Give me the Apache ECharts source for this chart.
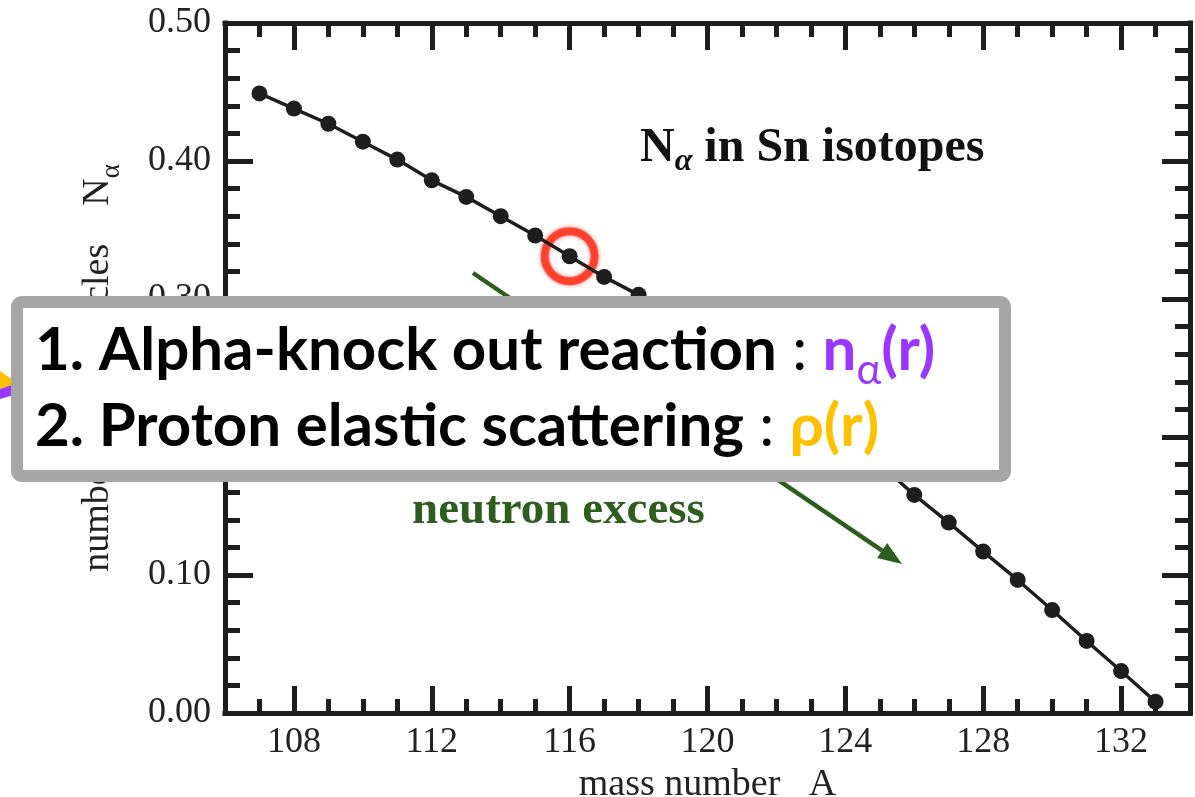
<!DOCTYPE html>
<html>
<head>
<meta charset="utf-8">
<script src="https://cdn.jsdelivr.net/npm/echarts@6/dist/echarts.min.js"></script>
<style>
html,body{margin:0;padding:0;background:#ffffff;}
#chart{width:1195px;height:797px;}
</style>
</head>
<body>
<div id="chart"></div>
<script>
// ---- data ----
const massNumbers = [107,108,109,110,111,112,113,114,115,116,117,118,119,120,121,122,123,124,125,126,127,128,129,130,131,132,133];
const nAlpha = [0.449,0.438,0.427,0.414,0.401,0.386,0.374,0.360,0.346,0.331,0.316,0.303,0.2885,0.273,0.2565,0.239,0.2205,0.201,0.1805,0.158,0.138,0.117,0.0964,0.0746,0.0522,0.0304,0.0082];
const xMajorTicks = [108,112,116,120,124,128,132];
const highlightedA = 116;
const xAxisTitle = 'mass number   A';
const yAxisTitleMain = 'number of α-particles    N';
const yAxisTitleSub = 'α';
const boxLine1 = '1. Alpha-knock out reaction';
const boxLine2 = '2. Proton elastic scattering';
const arrowText = 'neutron excess';

// ---- styles ----
const INK = '#1e1e1e';
const SERIF = '"Liberation Serif", "Times New Roman", serif';
const SANS = 'Lato, "Open Sans", sans-serif';
const GREEN = '#2d5e1e';

const seriesData = massNumbers.map((a, i) => [a, nAlpha[i]]);
const hiIdx = massNumbers.indexOf(highlightedA);

const frameLine = {show: true, onZero: false, lineStyle: {color: INK, width: 5, cap: 'square'}};
const majorTick = {show: true, inside: true, length: 27, customValues: xMajorTicks, lineStyle: {color: INK, width: 5}};
const minorTickAxis = (pos) => ({
  type: 'value', position: pos, min: 106, max: 134, interval: 1,
  axisLine: {show: false, onZero: false}, axisLabel: {show: false}, splitLine: {show: false},
  axisTick: {show: true, inside: true, length: 14, lineStyle: {color: INK, width: 5}}
});

const chart = echarts.init(document.getElementById('chart'), null, {renderer: 'canvas'});

// arrow geometry (annotation)
const aStart = [473, 273], aTip = [902, 564];
const dx = aTip[0] - aStart[0], dy = aTip[1] - aStart[1];
const L = Math.hypot(dx, dy), ux = dx / L, uy = dy / L;
const headLen = 24, headHalf = 9;
const base = [aTip[0] - ux * headLen, aTip[1] - uy * headLen];

const option = {
  animation: false,
  backgroundColor: '#ffffff',
  grid: {left: 225, right: 5, top: 23, bottom: 84, containLabel: false, outerBoundsMode: 'none'},
  xAxis: [
    {
      type: 'value', position: 'bottom', min: 106, max: 134,
      axisLine: frameLine, axisTick: majorTick, splitLine: {show: false},
      axisLabel: {customValues: xMajorTicks, margin: 12, fontSize: 36, fontFamily: SERIF, color: '#222'},
      name: xAxisTitle, nameLocation: 'middle', nameGap: 50,
      nameTextStyle: {fontSize: 38, fontFamily: SERIF, color: '#222'}
    },
    {
      type: 'value', position: 'top', min: 106, max: 134,
      axisLine: frameLine, axisTick: majorTick, splitLine: {show: false},
      axisLabel: {show: false}
    },
    minorTickAxis('bottom'),
    minorTickAxis('top')
  ],
  yAxis: [
    {
      type: 'value', position: 'left', min: 0, max: 0.5, interval: 0.1,
      axisLine: frameLine, splitLine: {show: false},
      axisTick: {show: true, inside: true, length: 28, lineStyle: {color: INK, width: 5}},
      minorTick: {show: true, splitNumber: 5, length: 15, lineStyle: {color: INK, width: 5}},
      axisLabel: {margin: 14, fontSize: 36, fontFamily: SERIF, color: '#222', formatter: v => v.toFixed(2)},
      name: '{t|' + yAxisTitleMain + '}{s|' + yAxisTitleSub + '}',
      nameLocation: 'middle', nameRotate: 90, nameGap: 100,
      nameTextStyle: {
        color: '#222',
        rich: {
          t: {fontSize: 38, fontFamily: SERIF, color: '#222', lineHeight: 53},
          s: {fontSize: 27, fontFamily: SERIF, color: '#222', verticalAlign: 'bottom', lineHeight: 26}
        }
      }
    },
    {
      type: 'value', position: 'right', min: 0, max: 0.5, interval: 0.1,
      axisLine: frameLine, splitLine: {show: false},
      axisTick: {show: true, inside: true, length: 28, lineStyle: {color: INK, width: 5}},
      minorTick: {show: true, splitNumber: 5, length: 15, lineStyle: {color: INK, width: 5}},
      axisLabel: {show: false}
    }
  ],
  series: [
    {
      type: 'scatter', name: 'highlight', xAxisIndex: 0, yAxisIndex: 0, z: 2,
      data: [seriesData[hiIdx]], symbol: 'circle', symbolSize: 50, silent: true,
      itemStyle: {color: 'rgba(0,0,0,0)', borderColor: '#ff2a16', borderWidth: 8, shadowBlur: 4, shadowColor: 'rgba(255,40,20,0.7)'}
    },
    {
      type: 'line', name: 'N_alpha', xAxisIndex: 0, yAxisIndex: 0, z: 3,
      data: seriesData, symbol: 'circle', symbolSize: 16, showSymbol: true,
      lineStyle: {color: INK, width: 3.5}, itemStyle: {color: INK}
    }
  ],
  graphic: [
    // title inside plot
    {
      type: 'text', z: 10, left: 640, top: 125,
      style: {
        text: '{n|N}{a|α}{t| in Sn isotopes}',
        rich: {
          n: {fontSize: 48, fontWeight: 'bold', fontFamily: SERIF, fill: '#111', lineHeight: 58},
          a: {fontSize: 32, fontWeight: 'bold', fontStyle: 'italic', fontFamily: SERIF, fill: '#111', verticalAlign: 'bottom', lineHeight: 42},
          t: {fontSize: 48, fontWeight: 'bold', fontFamily: SERIF, fill: '#111', lineHeight: 58}
        }
      }
    },
    // neutron excess arrow
    {
      type: 'line', z: 10,
      shape: {x1: aStart[0], y1: aStart[1], x2: base[0], y2: base[1]},
      style: {stroke: GREEN, lineWidth: 4.5}
    },
    {
      type: 'polygon', z: 10,
      shape: {points: [aTip, [base[0] - uy * headHalf, base[1] + ux * headHalf], [base[0] + uy * headHalf, base[1] - ux * headHalf]]},
      style: {fill: GREEN}
    },
    {
      type: 'text', z: 10, left: 412, top: 487,
      style: {text: arrowText, fontSize: 47, fontWeight: 'bold', fontFamily: SERIF, fill: GREEN}
    },
    // arrows coming from outside (left edge)
    {
      type: 'polygon', z: 30,
      shape: {points: [[0, 371], [19, 384], [0, 389]]},
      style: {fill: '#ffc000'}
    },
    {
      type: 'polygon', z: 31,
      shape: {points: [[0, 389], [15, 384], [17, 394], [0, 399]]},
      style: {fill: '#9a36ff'}
    },
    // overlay box
    {
      type: 'rect', z: 40,
      shape: {x: 17, y: 302, width: 988, height: 174, r: 5},
      style: {fill: '#ffffff', stroke: '#a6a6a6', lineWidth: 12}
    },
    {
      type: 'text', z: 41, left: 35, top: 321,
      style: {
        text: '{b|' + boxLine1 + '}{c| : }{p|n}{ps|α}{p|(r)}',
        rich: {
          b: {fontSize: 60, fontWeight: 'bold', fontFamily: SANS, fill: '#000', lineHeight: 80},
          c: {fontSize: 60, fontWeight: 'normal', fontFamily: SANS, fill: '#000', lineHeight: 80},
          p: {fontSize: 60, fontWeight: 'bold', fontFamily: SANS, fill: '#9a36ff', lineHeight: 80},
          ps: {fontSize: 42, fontWeight: 'normal', fontFamily: SANS, fill: '#9a36ff', verticalAlign: 'bottom', lineHeight: 42}
        }
      }
    },
    {
      type: 'text', z: 41, left: 35, top: 397,
      style: {
        text: '{b|' + boxLine2 + '}{c| : }{y|ρ(r)}',
        rich: {
          b: {fontSize: 60, fontWeight: 'bold', fontFamily: SANS, fill: '#000', lineHeight: 80},
          c: {fontSize: 60, fontWeight: 'normal', fontFamily: SANS, fill: '#000', lineHeight: 80},
          y: {fontSize: 60, fontWeight: 'bold', fontFamily: SANS, fill: '#ffc000', lineHeight: 80}
        }
      }
    }
  ]
};
chart.setOption(option);
</script>
</body>
</html>
